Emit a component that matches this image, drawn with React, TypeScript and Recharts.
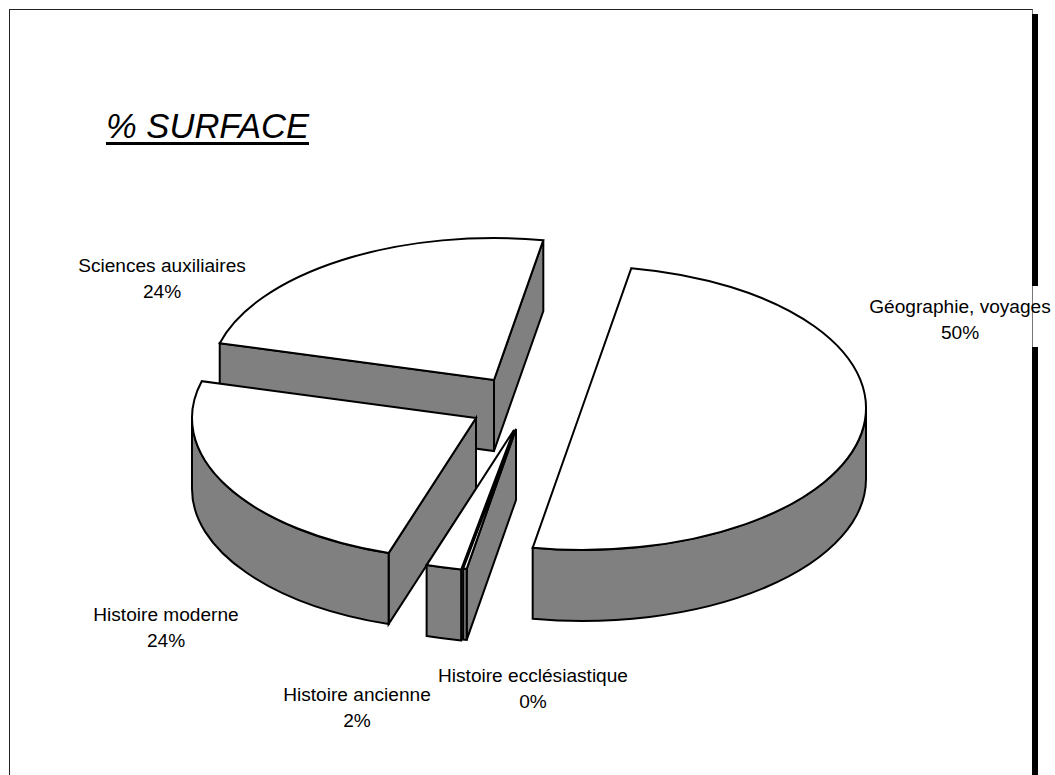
import { PieChart, Pie } from 'recharts';

// drawn back to front, going anticlockwise from the top
const categories = [
  'Sciences auxiliaires',
  'Histoire moderne',
  'Histoire ancienne',
  'Histoire ecclésiastique',
  'Géographie, voyages',
];
const surfaceShare = [23.6, 24.2, 2.0, 0.2, 50.0];

const data = categories.map((name, i) => ({ name, value: surfaceShare[i] }));

const WIDTH = 1055;
const HEIGHT = 775;
const SQUASH = 0.5;
const DEPTH = 71;
const SIDE_COLOR = '#808080';
const FONT = '"Liberation Sans", Arial, sans-serif';

// how far each slice is pulled out of the pie
const EXPLODE: Record<string, [number, number]> = {
  'Sciences auxiliaires': [-6, -40],
  'Histoire moderne': [-24, -2],
  'Histoire ancienne': [14, 10],
  'Histoire ecclésiastique': [16, 9],
  'Géographie, voyages': [82, -12],
};

// label centre x and first baseline
const LABEL_POS: Record<string, [number, number]> = {
  'Sciences auxiliaires': [162, 272],
  'Histoire moderne': [166, 621],
  'Histoire ancienne': [357, 701],
  'Histoire ecclésiastique': [533, 682],
  'Géographie, voyages': [960, 313],
};

const rad = (deg: number) => (deg * Math.PI) / 180;

function Slice3D(props: any) {
  const { cx, cy, outerRadius: a, startAngle: s, endAngle: e, name } = props;
  const b = a * SQUASH;
  const [dx, dy] = EXPLODE[name];
  const x0 = cx + dx;
  const y0 = cy + dy;
  const px = (t: number) => x0 + a * Math.cos(rad(t));
  const py = (t: number) => y0 - b * Math.sin(rad(t));

  const faces: string[] = [];
  const radial = (t: number) =>
    `M${x0},${y0} L${px(t)},${py(t)} L${px(t)},${py(t) + DEPTH} L${x0},${y0 + DEPTH} Z`;
  if (Math.cos(rad(s)) > 0) faces.push(radial(s));
  if (Math.cos(rad(e)) < 0) faces.push(radial(e));

  // only the front half of the rim shows
  const r0 = Math.max(s, 180);
  const r1 = Math.min(e, 360);
  if (r1 > r0) {
    faces.push(
      `M${px(r0)},${py(r0)} A${a},${b} 0 0 0 ${px(r1)},${py(r1)} ` +
        `L${px(r1)},${py(r1) + DEPTH} A${a},${b} 0 0 1 ${px(r0)},${py(r0) + DEPTH} Z`,
    );
  }

  const large = e - s > 180 ? 1 : 0;
  const top = `M${x0},${y0} L${px(s)},${py(s)} A${a},${b} 0 ${large} 0 ${px(e)},${py(e)} Z`;

  return (
    <g>
      {faces.map((d, i) => (
        <path key={i} d={d} fill={SIDE_COLOR} stroke="#000" strokeWidth={2} strokeLinejoin="miter" />
      ))}
      <path d={top} fill="#fff" stroke="#000" strokeWidth={2} strokeLinejoin="miter" />
    </g>
  );
}

function SliceLabel(props: any) {
  const { name, percent } = props;
  const [x, y] = LABEL_POS[name];
  return (
    <text x={x} textAnchor="middle" fontFamily={FONT} fontSize={19.1} fill="#000">
      <tspan x={x} y={y}>{name}</tspan>
      <tspan x={x} y={y + 25.5}>{`${Math.round(percent * 100)}%`}</tspan>
    </text>
  );
}

export default function App() {
  return (
    <div style={{ position: 'absolute', left: 0, top: 0, width: WIDTH, height: HEIGHT, overflow: 'hidden', background: '#fff' }}>
      {/* page frame and the heavy shadow bar on the right */}
      <div style={{ position: 'absolute', left: 9, top: 9, width: 1022, height: 780, border: '1.5px solid #222', borderRightColor: '#777', boxSizing: 'content-box' }} />
      <div style={{ position: 'absolute', left: 1032, top: 14, width: 6, height: 272, background: '#000' }} />
      <div style={{ position: 'absolute', left: 1032, top: 347, width: 6, height: 428, background: '#000' }} />
      <div
        style={{
          position: 'absolute',
          left: 106,
          top: 104,
          fontFamily: FONT,
          fontSize: 34.6,
          fontStyle: 'italic',
          lineHeight: '44px',
          textDecoration: 'underline',
          textDecorationThickness: 3,
          textUnderlineOffset: 4,
          color: '#000',
        }}
      >
        % SURFACE
      </div>
      <div style={{ position: 'absolute', left: 0, top: 0 }}>
        <PieChart width={WIDTH} height={HEIGHT} margin={{ top: 0, right: 0, bottom: 0, left: 0 }} style={{ background: 'transparent' }}>
          <Pie
            data={data}
            dataKey="value"
            nameKey="name"
            cx={500}
            cy={420}
            outerRadius={284}
            startAngle={80}
            endAngle={440}
            shape={Slice3D}
            label={SliceLabel}
            labelLine={false}
            rootTabIndex={-1}
            isAnimationActive={false}
          />
        </PieChart>
      </div>
    </div>
  );
}
